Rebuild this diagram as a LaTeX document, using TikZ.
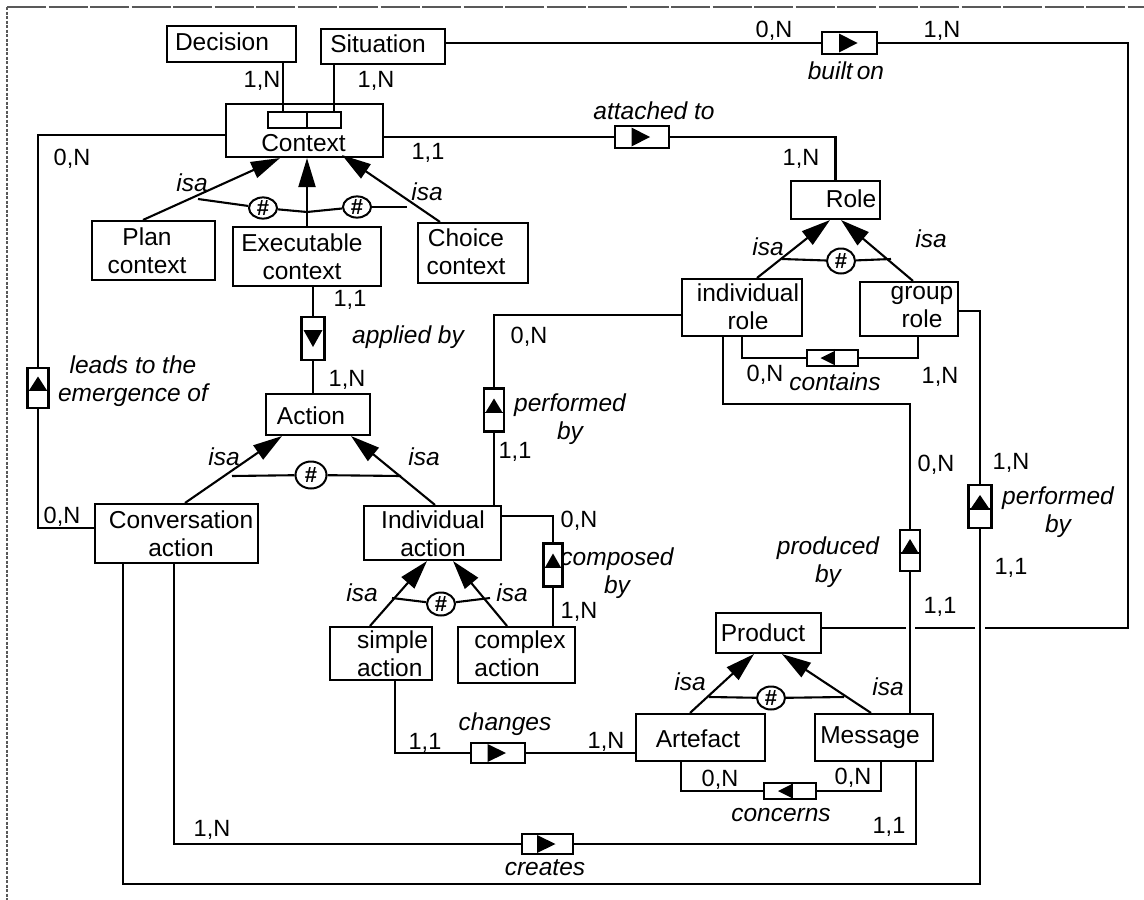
\documentclass[tikz,border=0pt]{standalone}
\usepackage{fontspec}
\setmainfont{Liberation Sans}
\usetikzlibrary{arrows.meta,shapes.geometric}
\newcommand\triR[2]{\fill ([xshift=-10.5pt,yshift=#2]#1.center) -- ([xshift=-10.5pt,yshift=-#2]#1.center) -- ([xshift=8pt]#1.center) -- cycle;}
\newcommand\triL[2]{\fill ([xshift=2pt,yshift=#2]#1.center) -- ([xshift=2pt,yshift=-#2]#1.center) -- ([xshift=-12pt]#1.center) -- cycle;
  \draw[line width=1.6pt] ([xshift=2pt]#1.north) -- ([xshift=2pt]#1.south);}
\newcommand\triU[2]{\fill ([yshift=-2.5pt,xshift=#2]#1.center) -- ([yshift=-2.5pt,xshift=-#2]#1.center) -- ([yshift=11.5pt]#1.center) -- cycle;
  \draw[line width=1.6pt] ([yshift=-2.5pt]#1.west) -- ([yshift=-2.5pt]#1.east);}
\newcommand\triD[2]{\fill ([yshift=8.5pt,xshift=#2]#1.center) -- ([yshift=8.5pt,xshift=-#2]#1.center) -- ([yshift=-8.5pt]#1.center) -- cycle;}
\begin{document}
\begin{tikzpicture}[x=1pt,y=-1pt,
  ent/.style={draw, line width=2.1pt, inner sep=0pt},
  etxt/.style={font=\fontsize{24.5}{28}\selectfont, align=center, inner sep=0pt},
  lab/.style={font=\fontsize{24.5}{28}\selectfont\itshape, align=center, inner sep=0pt},
  card/.style={font=\fontsize{23.5}{26}\selectfont, inner sep=0pt},
  conn/.style={line width=2.1pt},
  isa/.style={line width=2.1pt, -{Triangle[length=29pt,width=17pt]}},
  hash/.style={draw, ellipse, line width=2pt, fill=white, minimum width=28pt, minimum height=23pt, inner sep=0pt, font=\fontsize{22}{22}\selectfont\bfseries},
  relh/.style={draw, line width=2.1pt, minimum width=54pt, minimum height=21pt, inner sep=0pt},
  relv/.style={draw, line width=2.1pt, minimum width=21pt, minimum height=43pt, inner sep=0pt},
  rels/.style={draw, line width=2.1pt, minimum width=52pt, minimum height=16pt, inner sep=0pt},
]
\useasboundingbox (0,0) rectangle (1144,900);
% frame
\draw[black!65, line width=2pt, dash pattern=on 39pt off 2.5pt] (7,7) -- (1144,7);
\draw[black!65, line width=2pt, dash pattern=on 3pt off 1.5pt] (7,7) -- (7,900);

% entities
\node[ent, minimum width=129pt, minimum height=36pt] (decision) at (231.5,44) {};
\node[etxt] (decision-t) at (222,42) {Decision};
\node[ent, minimum width=124pt, minimum height=35pt] (situation) at (383,46.5) {};
\node[etxt] (situation-t) at (378,44) {Situation};
\node[ent, minimum width=157pt, minimum height=53pt] (context) at (304.5,130.5) {};
\node[etxt] (context-t) at (303.5,143) {Context};
\node[ent, minimum width=39pt, minimum height=16pt] (ctxA) at (287.5,120) {};
\node[ent, minimum width=34pt, minimum height=16pt] (ctxB) at (324,120) {};
\node[ent, minimum width=123pt, minimum height=59pt] (plan) at (153.5,250.5) {};
\node[etxt] (plan-t) at (147,251) {Plan\\context};
\node[ent, minimum width=148pt, minimum height=59pt] (exec) at (307,256.5) {};
\node[etxt] (exec-t) at (302,256.5) {Executable\\context};
\node[ent, minimum width=110pt, minimum height=60pt] (choice) at (473,253) {};
\node[etxt] (choice-t) at (466,252) {Choice\\context};
\node[ent, minimum width=89pt, minimum height=38pt] (role) at (835.5,200) {};
\node[etxt] (role-t) at (851,199) {Role};
\node[ent, minimum width=120pt, minimum height=57pt] (indrole) at (742,307.5) {};
\node[etxt] (indrole-t) at (748,306.5) {individual\\role};
\node[ent, minimum width=98pt, minimum height=54pt] (grouprole) at (909,309) {};
\node[etxt] (grouprole-t) at (922,307) {group\\role};
\node[ent, minimum width=104pt, minimum height=41pt] (action) at (318,414.5) {};
\node[etxt] (action-t) at (311,416) {Action};
\node[ent, minimum width=163pt, minimum height=59pt] (conv) at (176.5,533.5) {};
\node[etxt] (conv-t) at (181,533.5) {Conversation\\action};
\node[ent, minimum width=137pt, minimum height=54pt] (indact) at (432.5,533) {};
\node[etxt] (indact-t) at (433,533.5) {Individual\\action};
\node[ent, minimum width=102pt, minimum height=53pt] (simple) at (381,653.5) {};
\node[etxt, align=left] (simple-t) at (392.5,654) {simple\\action};
\node[ent, minimum width=117pt, minimum height=56pt] (complex) at (516.5,655) {};
\node[etxt, align=left] (complex-t) at (520,654) {complex\\action};
\node[ent, minimum width=105pt, minimum height=40pt] (product) at (768.5,633) {};
\node[etxt] (product-t) at (763,633) {Product};
\node[ent, minimum width=129pt, minimum height=47pt] (artefact) at (700.5,737.5) {};
\node[etxt] (artefact-t) at (698,739) {Artefact};
\node[ent, minimum width=118pt, minimum height=47pt] (message) at (874,737.5) {};
\node[etxt] (message-t) at (870,738) {Message};

% relationship boxes
\node[relh, minimum width=55pt, minimum height=22pt] (builton) at (849.5,43) {};
\node[relh, minimum height=22pt] (attached) at (642,137) {};
\node[relv, minimum width=23pt] (applied) at (313,338.5) {};
\node[relv, minimum height=40pt] (leads) at (38,388) {};
\node[relv, minimum width=20pt] (perfL) at (494,410) {};
\node[relv, minimum width=19pt] (composed) at (553,565) {};
\node[relv, minimum width=20pt, minimum height=41pt] (produced) at (910,550.5) {};
\node[relv, minimum width=23pt] (perfR) at (980,506.5) {};
\node[relh, minimum height=20pt] (changes) at (498,753) {};
\node[relh, minimum width=51pt, minimum height=20pt] (creates) at (547.5,844) {};
\node[rels, minimum width=51pt] (contains) at (832.5,358) {};
\node[rels] (concerns) at (790,791) {};
\triR{builton}{9.5pt}
\triR{attached}{9.5pt}
\triR{changes}{9pt}
\triR{creates}{9pt}
\triD{applied}{9.5pt}
\triU{leads}{9pt}
\triU{perfL}{8.5pt}
\triU{composed}{8pt}
\triU{produced}{8.5pt}
\triU{perfR}{9.5pt}
\triL{contains}{7pt}
\triL{concerns}{7pt}

% connectors
\draw[conn] ([xshift=-4.5pt]ctxA.north) -- ([xshift=-4.5pt]ctxA.north |- decision.south);
\draw[conn] ([xshift=10pt]ctxB.north) -- ([xshift=10pt]ctxB.north |- situation.south);
\draw[conn] ([yshift=-4.5pt]context.west) -| (leads.north);
\draw[conn] (leads.south) |- ([yshift=5.5pt]conv.west);
\draw[conn] ([yshift=-6.5pt]context.east) -- (attached.west);
\draw[conn] (attached.east) -| (role.north);
\coordinate (bR1) at (1128,43);
\coordinate (bR2) at (1128,628);
\coordinate (g1) at (985,628);
\coordinate (g2) at (975,628);
\coordinate (g3) at (915,628);
\coordinate (g4) at (906,628);
\draw[conn] ([yshift=3.5pt]situation.east) -- (builton.west);
\draw[conn] (builton.east) -- (bR1) -- (bR2) -- (g1);
\draw[conn] (g2) -- (g3);
\draw[conn] (g4) -- ([yshift=5pt]product.east);
\draw[conn] ([xshift=6pt]exec.south) -- (applied.north);
\draw[conn] (applied.south) -- (applied.south |- action.north);
\draw[conn] ([yshift=-7.5pt]indrole.west) -| (perfL.north);
\draw[conn] (perfL.south) -- (perfL.south |- indact.north);
\draw[conn] ([yshift=17pt]indact.east) -| (composed.north);
\draw[conn] (composed.south) -- (composed.south |- complex.north);
\draw[conn] ([xshift=14pt]simple.south) |- (changes.west);
\draw[conn] (changes.east) -- (changes.east -| artefact.west);
\draw[conn] ([xshift=-2.5pt]conv.south) |- (creates.west);
\draw[conn] (creates.east) -| ([xshift=42pt]message.south);
\coordinate (bot) at (980,884);
\draw[conn] ([xshift=-53.5pt]conv.south) |- (bot) -- (perfR.south);
\draw[conn] (perfR.north) |- ([yshift=-2pt]grouprole.east);
\coordinate (pb) at (910,404);
\draw[conn] ([xshift=-19pt]indrole.south) |- (pb) -- (produced.north);
\draw[conn] (produced.south) -- (produced.south |- message.north);
\draw[conn] (indrole.south) |- (contains.west);
\draw[conn] (contains.east) -| ([xshift=9pt]grouprole.south);
\draw[conn] ([xshift=-19.5pt]artefact.south) |- (concerns.west);
\draw[conn] (concerns.east) -| ([xshift=7pt]message.south);

% isa arrows
\draw[isa] ([xshift=-10.5pt]plan.north) -- ([xshift=-24.5pt]context.south);
\draw[isa] (exec.north) -- ([xshift=2.5pt]context.south);
\draw[isa] ([xshift=-33pt]choice.north) -- ([xshift=37.5pt,yshift=3pt]context.south);
\draw[isa] ([xshift=8.5pt]conv.north) -- ([xshift=-36pt]action.south);
\draw[isa] ([xshift=2.5pt]indact.north) -- ([xshift=33pt]action.south);
\draw[isa] ([xshift=15pt]indrole.north) -- ([xshift=-5.5pt]role.south);
\draw[isa] ([xshift=4pt]grouprole.north) -- ([xshift=5.5pt]role.south);
\draw[isa] ([xshift=-11pt]simple.north) -- ([xshift=-5.5pt]indact.south);
\draw[isa] ([xshift=-9.5pt]complex.north) -- ([xshift=20.5pt]indact.south);
\draw[isa] ([xshift=-10.5pt]artefact.north) -- ([xshift=-14.5pt]product.south);
\draw[isa] ([xshift=-3pt]message.north) -- ([xshift=13.5pt]product.south);

% disjointness
\coordinate (h1a) at (198,199);
\coordinate (h1m) at (307,212);
\coordinate (h1b) at (407,207);
\node[hash, minimum height=21pt] (hA) at (263,208) {\#};
\node[hash, minimum height=21pt] (hB) at (357,207) {\#};
\draw[conn] (h1a) -- (hA);
\draw[conn] (hA) -- (h1m) -- (hB);
\draw[conn] (hB) -- (h1b);
\coordinate (h2a) at (782,259);
\coordinate (h2b) at (891,259);
\node[hash, minimum height=25pt] (hR) at (841,261) {\#};
\draw[conn] (h2a) -- (hR) -- (h2b);
\coordinate (h3a) at (232,476);
\coordinate (h3b) at (401,476);
\node[hash, minimum width=31pt, minimum height=27pt] (hAc) at (311,475) {\#};
\draw[conn] (h3a) -- (hAc) -- (h3b);
\coordinate (h4a) at (392,598);
\coordinate (h4b) at (490,598);
\node[hash] (hI) at (441,604) {\#};
\draw[conn] (h4a) -- (hI) -- (h4b);
\coordinate (h5a) at (709,697);
\coordinate (h5b) at (844,697);
\node[hash] (hP) at (771,698) {\#};
\draw[conn] (h5a) -- (hP) -- (h5b);

% isa labels
\node[lab] (i1) at (192,183) {isa};
\node[lab] (i2) at (427,192) {isa};
\node[lab] (i3) at (224,457) {isa};
\node[lab] (i4) at (424,457) {isa};
\node[lab] (i5) at (768,247) {isa};
\node[lab] (i6) at (931,239) {isa};
\node[lab] (i7) at (362,593) {isa};
\node[lab] (i8) at (512,593) {isa};
\node[lab] (i9) at (690,682) {isa};
\node[lab] (i10) at (888,687) {isa};

% relationship labels
\node[lab] (builton-l) at (846,71) {built\,on};
\node[lab] (attached-l) at (654,111) {attached to};
\node[lab] (applied-l) at (408,337) {applied by};
\node[lab] (leads-l) at (133,381) {leads to the\\emergence of};
\node[lab] (perfL-l) at (570,419) {performed\\by};
\node[lab] (composed-l) at (617,573) {composed\\by};
\node[lab] (produced-l) at (828,562) {produced\\by};
\node[lab] (perfR-l) at (1058,512) {performed\\by};
\node[lab] (contains-l) at (835,382) {contains};
\node[lab] (changes-l) at (505,724) {changes};
\node[lab] (concerns-l) at (781,815) {concerns};
\node[lab] (creates-l) at (545,868) {creates};

% cardinalities
\node[card] (k1) at (262,81) {1,N};
\node[card] (k2) at (376,81) {1,N};
\node[card] (k3) at (72,159) {0,N};
\node[card] (k4) at (428,153) {1,1};
\node[card] (k5) at (774,31) {0,N};
\node[card] (k6) at (942,31) {1,N};
\node[card] (k7) at (801,159) {1,N};
\node[card] (k8) at (350,300) {1,1};
\node[card] (k9) at (347,380) {1,N};
\node[card] (k10) at (529,337) {0,N};
\node[card] (k11) at (515,452) {1,1};
\node[card] (k12) at (62,517) {0,N};
\node[card] (k13) at (579,521) {0,N};
\node[card] (k14) at (579,612) {1,N};
\node[card] (k15) at (425,743) {1,1};
\node[card] (k16) at (606,742) {1,N};
\node[card] (k17) at (212,830) {1,N};
\node[card] (k18) at (889,827) {1,1};
\node[card] (k19) at (720,780) {0,N};
\node[card] (k20) at (853,778) {0,N};
\node[card] (k21) at (765,375) {0,N};
\node[card] (k22) at (940,377) {1,N};
\node[card] (k23) at (936,465) {0,N};
\node[card] (k24) at (940,607) {1,1};
\node[card] (k25) at (1011,463) {1,N};
\node[card] (k26) at (1011,568) {1,1};
\end{tikzpicture}
\end{document}
